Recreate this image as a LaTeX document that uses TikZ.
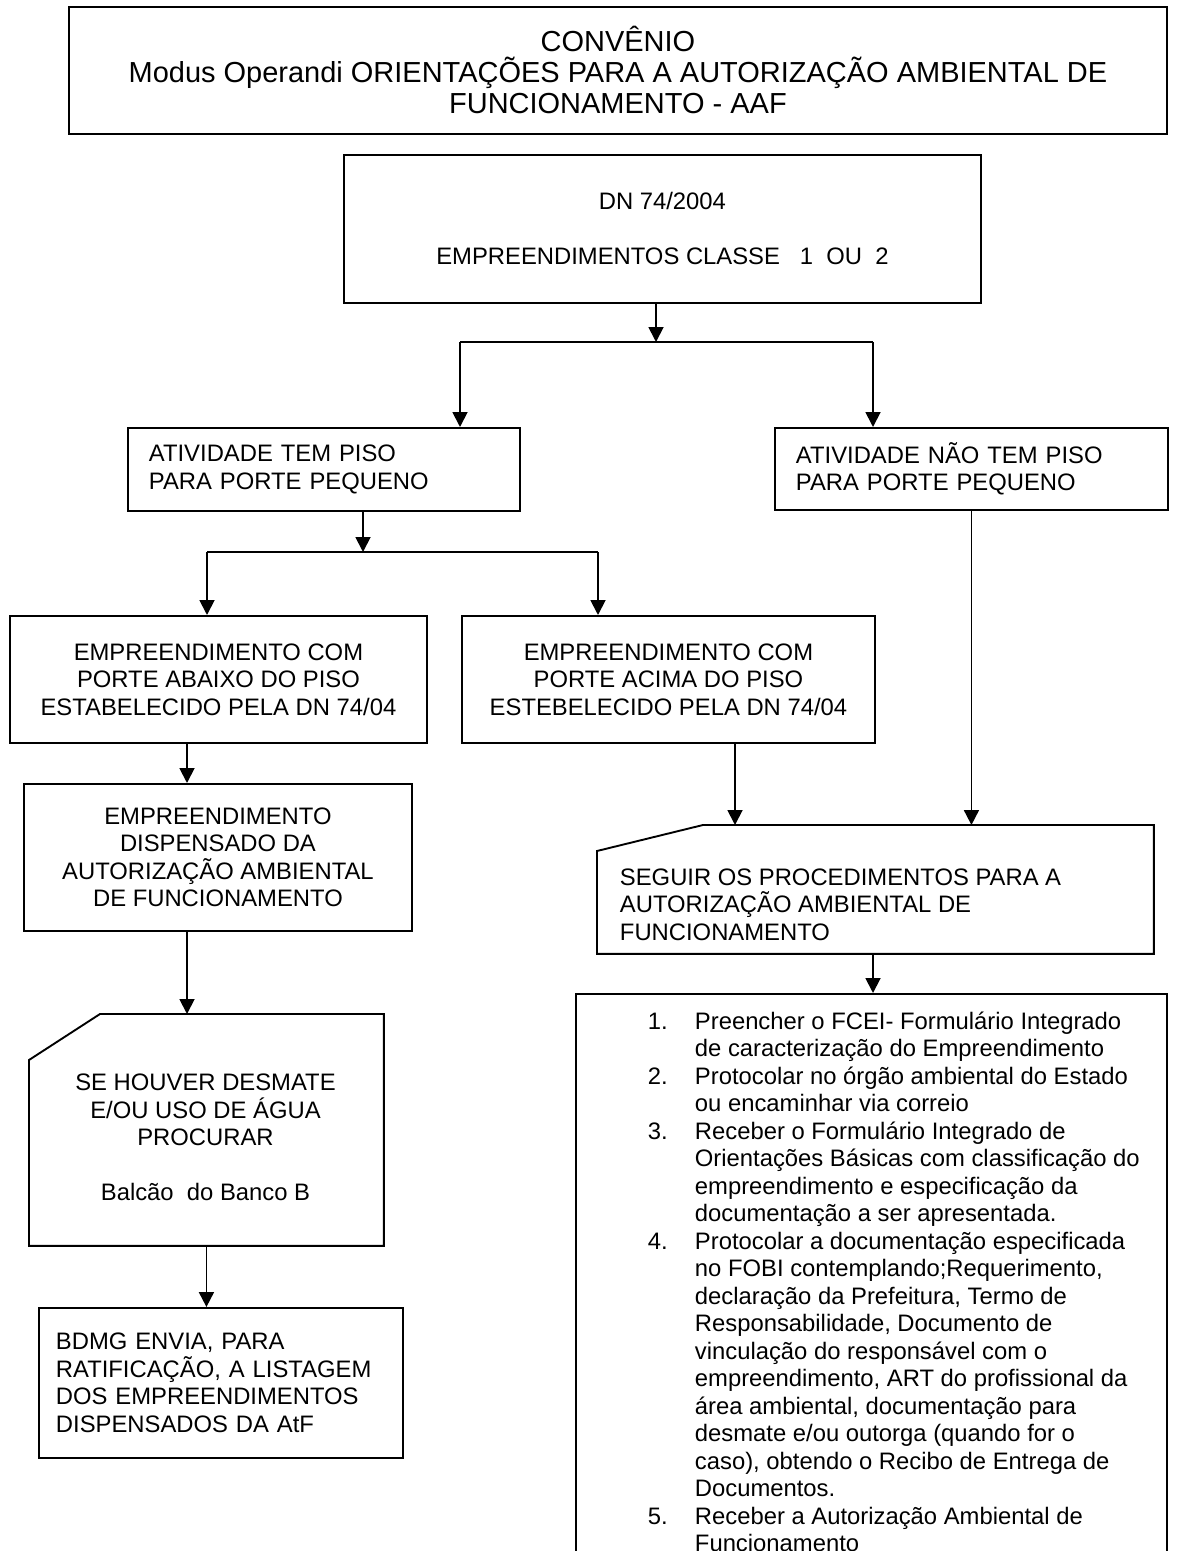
\documentclass[tikz,border=0pt]{standalone}
\usepackage{fontspec}
\setmainfont{Liberation Sans}
\usetikzlibrary{arrows.meta}
\newdimen\px \px=0.5038pt
\newcommand{\boxfont}{\fontsize{12pt}{13.85pt}\selectfont}
\newcommand{\titlefont}{\fontsize{14.6pt}{15.6pt}\selectfont}

\begin{document}
\begin{tikzpicture}[x=0.5038pt,y=-0.5038pt,>={Triangle[length=7.5pt,width=7.5pt]},line width=0.95pt,
  every node/.style={font=\boxfont,inner sep=0pt},
  box/.style={draw,anchor=north west,align=center},
  leftbox/.style={box,align=left,inner xsep=21*\px},
  card/.style={anchor=north west}]
\useasboundingbox (0,0) rectangle (1186,1551);
\fill[white] (0,0) rectangle (1186,1551);

\node[box,minimum width=1098*\px,minimum height=127*\px,font=\titlefont] (titulo) at (68,6)
  {CONVÊNIO\\Modus Operandi ORIENTAÇÕES PARA A AUTORIZAÇÃO AMBIENTAL DE\\FUNCIONAMENTO - AAF};
\node[box,minimum width=637*\px,minimum height=148*\px] (dn) at (343,154)
  {DN 74/2004\\[13.85pt]EMPREENDIMENTOS CLASSE~~~1~~OU~~2};

\node[leftbox,text width=176.33pt,minimum height=83*\px] (tem) at (127,427)
  {ATIVIDADE TEM PISO\\PARA PORTE PEQUENO};
\node[leftbox,text width=176.83pt,minimum height=82*\px] (nao) at (774,427)
  {ATIVIDADE NÃO TEM PISO\\PARA PORTE PEQUENO};

\node[box,minimum width=417*\px,minimum height=127*\px] (abaixo) at (9,615)
  {EMPREENDIMENTO COM\\PORTE ABAIXO DO PISO\\ESTABELECIDO PELA DN 74/04};
\node[box,minimum width=413*\px,minimum height=127*\px] (acima) at (461,615)
  {EMPREENDIMENTO COM\\PORTE ACIMA DO PISO\\ESTEBELECIDO PELA DN 74/04};
\node[box,minimum width=388*\px,minimum height=147*\px] (disp) at (23,783)
  {EMPREENDIMENTO\\DISPENSADO DA\\AUTORIZAÇÃO AMBIENTAL\\DE FUNCIONAMENTO};

\node[card,minimum width=353*\px,minimum height=230*\px] (desmate) at (29,1014) {};
\draw ([xshift=71*\px]desmate.north west) -- (desmate.north east) -- (desmate.south east)
  -- (desmate.south west) -- ([yshift=-46*\px]desmate.north west) -- cycle;
\node[align=center,anchor=north] (desmatetxt) at (205.5,1073)
  {SE HOUVER DESMATE\\E/OU USO DE ÁGUA\\PROCURAR\\[13.85pt]Balcão~ do Banco B};

\node[leftbox,text width=166.25pt,inner xsep=17*\px,minimum height=150*\px] (bdmg) at (38,1307)
  {BDMG ENVIA, PARA\\RATIFICAÇÃO, A LISTAGEM\\DOS EMPREENDIMENTOS\\DISPENSADOS DA AtF};

\node[card,minimum width=555*\px,minimum height=127*\px] (seguir) at (597,825) {};
\draw ([xshift=106*\px]seguir.north west) -- (seguir.north east) -- (seguir.south east)
  -- (seguir.south west) -- ([yshift=-26*\px]seguir.north west) -- cycle;
\node[align=left,anchor=north west] (seguirtxt) at (619,867.5)
  {SEGUIR OS PROCEDIMENTOS PARA A\\AUTORIZAÇÃO AMBIENTAL DE\\FUNCIONAMENTO};

\node[box,minimum width=591*\px,minimum height=577*\px] (passos) at (575,993) {};
\node[anchor=north west] (passostxt) at (647,1009.3) {%
\begin{tabular}{@{}p{47\px}@{}l@{}}
1. & Preencher o FCEI- Formulário Integrado\\
   & de caracterização do Empreendimento\\
2. & Protocolar no órgão ambiental do Estado\\
   & ou encaminhar via correio\\
3. & Receber o Formulário Integrado de\\
   & Orientações Básicas com classificação do\\
   & empreendimento e especificação da\\
   & documentação a ser apresentada.\\
4. & Protocolar a documentação especificada\\
   & no FOBI contemplando;Requerimento,\\
   & declaração da Prefeitura, Termo de\\
   & Responsabilidade, Documento de\\
   & vinculação do responsável com o\\
   & empreendimento, ART do profissional da\\
   & área ambiental, documentação para\\
   & desmate e/ou outorga (quando for o\\
   & caso), obtendo o Recibo de Entrega de\\
   & Documentos.\\
5. & Receber a Autorização Ambiental de\\
   & Funcionamento
\end{tabular}};

\coordinate (splitA) at (656,342);
\coordinate (barL) at (460,342);
\coordinate (barR) at (873,342);
\draw[->] (splitA |- dn.south) -- (splitA);
\draw (barL) -- (barR);
\draw[->] (barL) -- (barL |- tem.north);
\draw[->] (barR) -- (barR |- nao.north);

\coordinate (splitB) at (363,552);
\coordinate (barBL) at (207,552);
\coordinate (barBR) at (598,552);
\draw[->] (splitB |- tem.south) -- (splitB);
\draw (barBL) -- (barBR);
\draw[->] (barBL) -- (barBL |- abaixo.north);
\draw[->] (barBR) -- (barBR |- acima.north);

\coordinate (colDisp) at (187,0);
\draw[->] (colDisp |- abaixo.south) -- (colDisp |- disp.north);
\draw[->] (colDisp |- disp.south) -- (colDisp |- desmate.north);
\draw[->] (desmate.south) -- (desmate.south |- bdmg.north);

\coordinate (colAcima) at (735,0);
\coordinate (colPassos) at (873,0);
\draw[->] (colAcima |- acima.south) -- (colAcima |- seguir.north);
\draw[->] (nao.south) -- (nao.south |- seguir.north);
\draw[->] (colPassos |- seguir.south) -- (colPassos |- passos.north);
\end{tikzpicture}
\end{document}
